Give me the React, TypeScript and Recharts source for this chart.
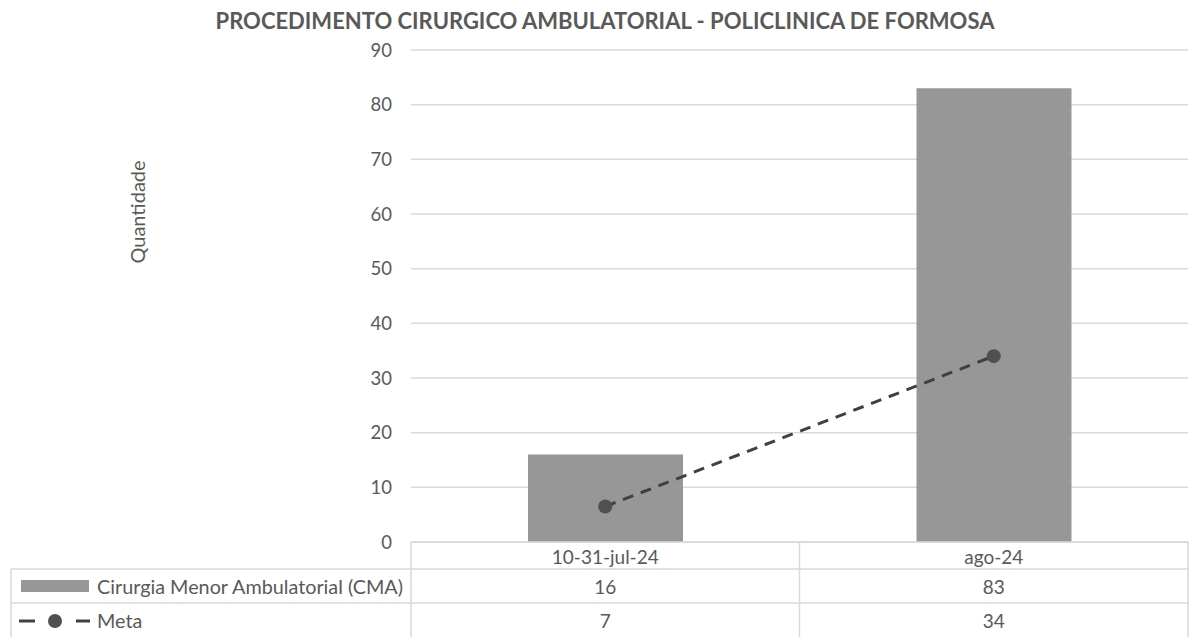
import { ComposedChart, Bar, Line, XAxis, YAxis, CartesianGrid } from 'recharts';

const categories = ['10-31-jul-24', 'ago-24'];
const cmaValues = [16, 83];
const metaValues = [6.5, 34];
const yTicks = [0, 10, 20, 30, 40, 50, 60, 70, 80, 90];
const seriesNames = ['Cirurgia Menor Ambulatorial (CMA)', 'Meta'];

const chartData = categories.map((c, i) => ({ name: c, cma: cmaValues[i], meta: metaValues[i] }));

const W = 1195;
const H = 637;
const PLOT_LEFT = 411;
const PLOT_RIGHT = 1188;
const PLOT_TOP = 50;
const AXIS_H = 95;
const PLOT_BOTTOM = H - AXIS_H;
const BAND = (PLOT_RIGHT - PLOT_LEFT) / categories.length;
const ROW1 = 569;
const ROW2 = 603;
const TABLE_LEFT = 11;

const FONT = 'Lato, "Open Sans", sans-serif';
const TEXT = '#595959';
const GRID = '#d9d9d9';
const BAR = '#979797';
const LINE = '#404040';

function TableTick(props: any) {
  const { x, index } = props;
  const left = x - BAND / 2;
  const right = x + BAND / 2;
  const last = index === categories.length - 1;
  return (
    <g fontFamily={FONT} fontSize={19} fill={TEXT}>
      <line x1={left} y1={PLOT_BOTTOM} x2={left} y2={H} stroke={GRID} strokeWidth={1.5} />
      {last && <line x1={right} y1={PLOT_BOTTOM} x2={right} y2={H} stroke={GRID} strokeWidth={1.5} />}
      <line x1={left} y1={PLOT_BOTTOM} x2={right} y2={PLOT_BOTTOM} stroke={GRID} strokeWidth={1.5} />
      <line x1={left} y1={ROW1} x2={right} y2={ROW1} stroke={GRID} strokeWidth={1.5} />
      <line x1={left} y1={ROW2} x2={right} y2={ROW2} stroke={GRID} strokeWidth={1.5} />
      <text x={x} y={556} textAnchor="middle" dominantBaseline="central">{categories[index]}</text>
      <text x={x} y={586} textAnchor="middle" dominantBaseline="central">{cmaValues[index]}</text>
      <text x={x} y={620} textAnchor="middle" dominantBaseline="central">{Math.round(metaValues[index])}</text>
      {index === 0 && (
        <g>
          <line x1={TABLE_LEFT} y1={ROW1} x2={TABLE_LEFT} y2={H} stroke={GRID} strokeWidth={1.5} />
          <line x1={TABLE_LEFT} y1={ROW1} x2={left} y2={ROW1} stroke={GRID} strokeWidth={1.5} />
          <line x1={TABLE_LEFT} y1={ROW2} x2={left} y2={ROW2} stroke={GRID} strokeWidth={1.5} />
          <rect x={21} y={580} width={68} height={12} fill={BAR} />
          <text x={97} y={586} fontSize={19.8} dominantBaseline="central">{seriesNames[0]}</text>
          <line x1={19} y1={621} x2={35} y2={621} stroke={LINE} strokeWidth={3} />
          <circle cx={55} cy={621} r={7} fill="#505050" />
          <line x1={76} y1={621} x2={90} y2={621} stroke={LINE} strokeWidth={3} />
          <text x={97} y={620} fontSize={19.8} dominantBaseline="central">{seriesNames[1]}</text>
        </g>
      )}
    </g>
  );
}

export default function App() {
  return (
    <div style={{ position: 'absolute', left: 0, top: 0, width: W, height: H, background: '#fff' }}>
      <ComposedChart
        width={W}
        height={H}
        data={chartData}
        margin={{ top: PLOT_TOP, right: W - PLOT_RIGHT, bottom: 0, left: 0 }}
      >
        <CartesianGrid vertical={false} stroke={GRID} strokeWidth={1.5} />
        <YAxis
          width={PLOT_LEFT}
          domain={[0, 90]}
          ticks={yTicks}
          axisLine={false}
          tickLine={false}
          tickSize={6}
          tickMargin={13}
          tick={{ fontFamily: FONT, fontSize: 18.5, fill: TEXT }}
        />
        <XAxis
          dataKey="name"
          height={AXIS_H}
          axisLine={false}
          tickLine={false}
          interval={0}
          tick={(p: any) => <TableTick {...p} />}
        />
        <Bar dataKey="cma" name={seriesNames[0]} fill={BAR} barSize={155} isAnimationActive={false} />
        <Line
          type="linear"
          dataKey="meta"
          name={seriesNames[1]}
          stroke={LINE}
          strokeWidth={3}
          strokeDasharray="11 8"
          dot={{ r: 7, fill: '#505050', stroke: 'none', strokeDasharray: '' }}
          activeDot={false}
          isAnimationActive={false}
        />
      </ComposedChart>
      <svg width={W} height={H} style={{ position: 'absolute', left: 0, top: 0, pointerEvents: 'none' }}>
        <text
          x={605}
          y={20}
          textAnchor="middle"
          dominantBaseline="central"
          fontFamily={FONT}
          fontWeight={700}
          fontSize={22}
          fill={TEXT}
        >
          PROCEDIMENTO CIRURGICO AMBULATORIAL - POLICLINICA DE FORMOSA
        </text>
        <text
          x={137}
          y={212}
          transform="rotate(-90 137 212)"
          textAnchor="middle"
          dominantBaseline="central"
          fontFamily={FONT}
          fontSize={20}
          fill={TEXT}
        >
          Quantidade
        </text>
      </svg>
    </div>
  );
}
